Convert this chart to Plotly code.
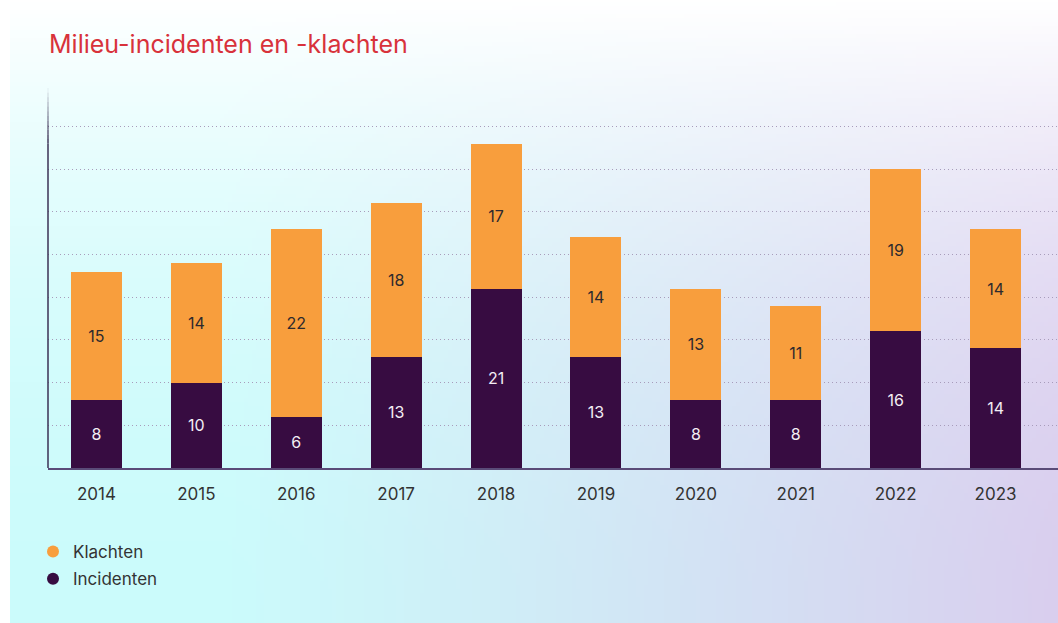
import base64
import struct
import zlib

import numpy as np
import plotly.graph_objects as go

# ---- data -------------------------------------------------------------
years = ["2014", "2015", "2016", "2017", "2018", "2019", "2020", "2021", "2022", "2023"]
incidenten = [8, 10, 6, 13, 21, 13, 8, 8, 16, 14]
klachten = [15, 14, 22, 18, 17, 14, 13, 11, 19, 14]

ORANGE = "#f89e3d"
PURPLE = "#370c41"
FONT = "Inter"

W, H = 1058, 623
L, T, B = 48, 88, 155


# ---- soft background gradient (white top, cyan left, lavender right) ----
def png_data_uri(rgb):
    h, w, _ = rgb.shape
    raw = b"".join(b"\x00" + rgb[r].tobytes() for r in range(h))

    def chunk(tag, data):
        c = struct.pack(">I", len(data)) + tag + data
        return c + struct.pack(">I", zlib.crc32(tag + data) & 0xFFFFFFFF)

    png = b"\x89PNG\r\n\x1a\n"
    png += chunk(b"IHDR", struct.pack(">IIBBBBB", w, h, 8, 2, 0, 0, 0))
    png += chunk(b"IDAT", zlib.compress(raw, 9))
    png += chunk(b"IEND", b"")
    return "data:image/png;base64," + base64.b64encode(png).decode()


gw, gh = 262, 156
xs = np.linspace(0, 1, gw)[None, :, None]
ys = np.linspace(0, 1, gh)[:, None, None]
cyan = np.array([203, 251, 251], dtype=float)
lav = np.array([217, 206, 238], dtype=float)
s = np.clip((xs - 0.2) / 0.8, 0, 1) ** 1.1
base = cyan * (1 - s) + lav * s
white_amt = np.clip(1 - ys * 1.02, 0, 1) ** 2.1
img = base * (1 - white_amt) + 255 * white_amt
img = np.clip(np.round(img), 0, 255).astype(np.uint8)
bg_uri = png_data_uri(np.ascontiguousarray(img))

# ---- figure -----------------------------------------------------------
fig = go.Figure()

fig.add_trace(go.Bar(
    x=years, y=incidenten, name="Incidenten",
    marker=dict(color=PURPLE, line=dict(width=0)),
    text=[str(v) for v in incidenten], textposition="inside",
    insidetextanchor="middle", textangle=0,
    textfont=dict(family=FONT, size=16, color="#f3eef4"),
    showlegend=False, hoverinfo="skip",
))
fig.add_trace(go.Bar(
    x=years, y=klachten, name="Klachten",
    marker=dict(color=ORANGE, line=dict(width=0)),
    text=[str(v) for v in klachten], textposition="inside",
    insidetextanchor="middle", textangle=0,
    textfont=dict(family=FONT, size=16, color="#2e2a2e"),
    showlegend=False, hoverinfo="skip",
))

# legend entries with round markers (top to bottom)
for name, col in [("Klachten", ORANGE), ("Incidenten", PURPLE)]:
    fig.add_trace(go.Scatter(
        x=[None], y=[None], mode="markers", name=name, legendgroup=name,
        marker=dict(symbol="circle", size=12, color=col),
    ))

ymax = 44.5
shapes = []
# left axis line, fading out towards the top
n_seg = 12
fade_from = 38.0
shapes.append(dict(type="line", xref="paper", yref="y", x0=0, x1=0, y0=0, y1=fade_from,
                   line=dict(color="#3b3054", width=1.5), layer="above"))
for i in range(n_seg):
    y0 = fade_from + (ymax - fade_from) * i / n_seg
    y1 = fade_from + (ymax - fade_from) * (i + 1) / n_seg
    op = 1 - (i + 0.5) / n_seg
    shapes.append(dict(type="line", xref="paper", yref="y", x0=0, x1=0, y0=y0, y1=y1,
                       line=dict(color="#3b3054", width=1.5), opacity=op, layer="above"))

fig.update_layout(
    width=W, height=H,
    margin=dict(l=L, r=0, t=T, b=B, pad=0, autoexpand=False),
    paper_bgcolor="white",
    plot_bgcolor="rgba(0,0,0,0)",
    barmode="stack",
    bargap=0.49,
    font=dict(family=FONT, color="#333333"),
    title=dict(
        text="Milieu-incidenten en -klachten",
        font=dict(family=FONT, size=25, color="#d8323b"),
        x=49 / W, xanchor="left", xref="container",
        y=1 - 44 / H, yanchor="middle", yref="container",
    ),
    xaxis=dict(
        type="category", range=[-0.485, 9.625],
        showgrid=False, zeroline=False,
        showline=True, linecolor="#5a4b78", linewidth=2,
        ticks="", tickfont=dict(family=FONT, size=17, color="#333333"),
        ticklabelstandoff=10,
    ),
    yaxis=dict(
        range=[0, ymax], showticklabels=False, ticks="",
        showgrid=True, gridcolor="#a89cbb", griddash="1px,3px", gridwidth=1,
        dtick=5, tick0=0, zeroline=False, showline=False,
    ),
    legend=dict(
        xref="container", yref="container",
        x=33 / W, y=1 - 534 / H, xanchor="left", yanchor="top",
        orientation="v", traceorder="grouped", itemwidth=30,
        font=dict(family=FONT, size=17, color="#333333"),
        bgcolor="rgba(0,0,0,0)", itemsizing="constant", tracegroupgap=2,
    ),
    images=[dict(
        source=bg_uri, xref="paper", yref="paper",
        x=(10 - L) / (W - L), y=1 + T / (H - T - B),
        sizex=(W - 10) / (W - L), sizey=H / (H - T - B),
        xanchor="left", yanchor="top", sizing="stretch", layer="below",
    )],
    shapes=shapes,
    showlegend=True,
)

fig.write_html("out.html")
